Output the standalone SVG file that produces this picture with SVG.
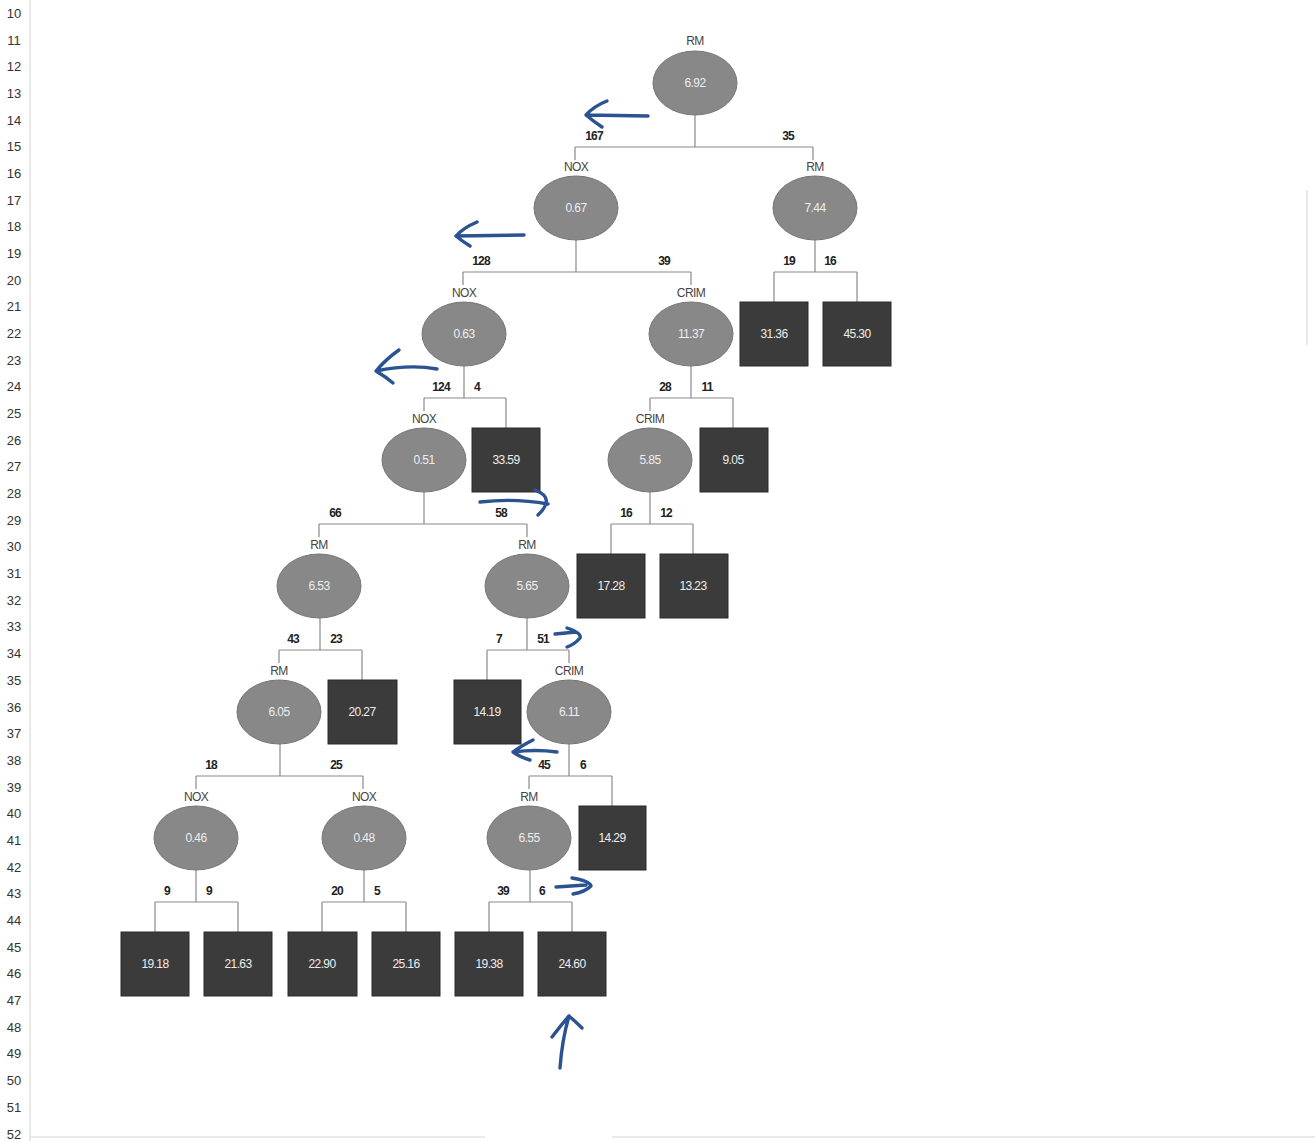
<svg xmlns="http://www.w3.org/2000/svg" width="1315" height="1141" viewBox="0 0 1315 1141">
<style>
.bg{fill:#ffffff}
.grid{stroke:#d4d4d4;stroke-width:1;fill:none}
.rown{font-family:"Liberation Sans",Arial,sans-serif;font-size:13px;fill:#333;text-anchor:middle;dominant-baseline:central}
.ell{fill:#888888;stroke:#767676;stroke-width:1}
.sq{fill:#3b3b3b;stroke:#2a2a2a;stroke-width:1}
.val{font-family:"Liberation Sans",Arial,sans-serif;font-size:12px;fill:#eeeeee;text-anchor:middle;dominant-baseline:central;letter-spacing:-0.6px}
.attr{font-family:"Liberation Sans",Arial,sans-serif;font-size:12px;fill:#444;text-anchor:middle;dominant-baseline:central;letter-spacing:-0.6px}
.cnt{font-family:"Liberation Sans",Arial,sans-serif;font-size:12px;font-weight:bold;fill:#222;text-anchor:middle;dominant-baseline:central;letter-spacing:-0.8px}
.ln{stroke:#8a8a8a;stroke-width:1.2;fill:none}
.pen{stroke:#2b5391;stroke-width:3.4;fill:none;stroke-linecap:round;stroke-linejoin:round}
</style>
<rect class="bg" x="0" y="0" width="1315" height="1141"/>
<g id="sheet">
<line class="grid" x1="30" y1="0" x2="30" y2="1141"/>
<line class="grid" x1="30" y1="1137" x2="485" y2="1137"/>
<line class="grid" x1="612" y1="1137" x2="1315" y2="1137"/>
<line class="grid" x1="1307" y1="190" x2="1307" y2="345"/>
<text class="rown" x="14" y="13">10</text>
<text class="rown" x="14" y="40">11</text>
<text class="rown" x="14" y="66">12</text>
<text class="rown" x="14" y="93">13</text>
<text class="rown" x="14" y="120">14</text>
<text class="rown" x="14" y="146">15</text>
<text class="rown" x="14" y="173">16</text>
<text class="rown" x="14" y="200">17</text>
<text class="rown" x="14" y="226">18</text>
<text class="rown" x="14" y="253">19</text>
<text class="rown" x="14" y="280">20</text>
<text class="rown" x="14" y="306">21</text>
<text class="rown" x="14" y="333">22</text>
<text class="rown" x="14" y="360">23</text>
<text class="rown" x="14" y="386">24</text>
<text class="rown" x="14" y="413">25</text>
<text class="rown" x="14" y="440">26</text>
<text class="rown" x="14" y="466">27</text>
<text class="rown" x="14" y="493">28</text>
<text class="rown" x="14" y="520">29</text>
<text class="rown" x="14" y="546">30</text>
<text class="rown" x="14" y="573">31</text>
<text class="rown" x="14" y="600">32</text>
<text class="rown" x="14" y="626">33</text>
<text class="rown" x="14" y="653">34</text>
<text class="rown" x="14" y="680">35</text>
<text class="rown" x="14" y="707">36</text>
<text class="rown" x="14" y="733">37</text>
<text class="rown" x="14" y="760">38</text>
<text class="rown" x="14" y="787">39</text>
<text class="rown" x="14" y="813">40</text>
<text class="rown" x="14" y="840">41</text>
<text class="rown" x="14" y="867">42</text>
<text class="rown" x="14" y="893">43</text>
<text class="rown" x="14" y="920">44</text>
<text class="rown" x="14" y="947">45</text>
<text class="rown" x="14" y="973">46</text>
<text class="rown" x="14" y="1000">47</text>
<text class="rown" x="14" y="1027">48</text>
<text class="rown" x="14" y="1053">49</text>
<text class="rown" x="14" y="1080">50</text>
<text class="rown" x="14" y="1107">51</text>
<text class="rown" x="14" y="1134">52</text>
</g>
<g id="connectors">
<path class="ln" d="M695,115 V147 M575,147 H813 M575,147 V160 M813,147 V160"/>
<path class="ln" d="M576,240 V272 M463,272 H691 M463,272 V285 M691,272 V285"/>
<path class="ln" d="M815,240 V272 M774,272 H857 M774,272 V302 M857,272 V302"/>
<path class="ln" d="M464,366 V398 M424,398 H506 M424,398 V411 M506,398 V428"/>
<path class="ln" d="M691,366 V398 M650,398 H733 M650,398 V411 M733,398 V428"/>
<path class="ln" d="M424,492 V524 M319,524 H527 M319,524 V537 M527,524 V537"/>
<path class="ln" d="M650,492 V524 M611,524 H693 M611,524 V554 M693,524 V554"/>
<path class="ln" d="M320,618 V650 M279,650 H362 M279,650 V663 M362,650 V680"/>
<path class="ln" d="M527,618 V650 M487,650 H569 M487,650 V680 M569,650 V663"/>
<path class="ln" d="M280,744 V776 M196,776 H363 M196,776 V789 M363,776 V789"/>
<path class="ln" d="M569,744 V776 M529,776 H612 M529,776 V789 M612,776 V806"/>
<path class="ln" d="M196,870 V902 M155,902 H238 M155,902 V932 M238,902 V932"/>
<path class="ln" d="M364,870 V902 M322,902 H406 M322,902 V932 M406,902 V932"/>
<path class="ln" d="M530,870 V902 M489,902 H572 M489,902 V932 M572,902 V932"/>
<text class="cnt" x="594" y="136">167</text><text class="cnt" x="788" y="136">35</text>
<text class="cnt" x="481" y="261">128</text><text class="cnt" x="664" y="261">39</text>
<text class="cnt" x="789" y="261">19</text><text class="cnt" x="830" y="261">16</text>
<text class="cnt" x="441" y="387">124</text><text class="cnt" x="477" y="387">4</text>
<text class="cnt" x="665" y="387">28</text><text class="cnt" x="707" y="387">11</text>
<text class="cnt" x="335" y="513">66</text><text class="cnt" x="501" y="513">58</text>
<text class="cnt" x="626" y="513">16</text><text class="cnt" x="666" y="513">12</text>
<text class="cnt" x="293" y="639">43</text><text class="cnt" x="336" y="639">23</text>
<text class="cnt" x="499" y="639">7</text><text class="cnt" x="543" y="639">51</text>
<text class="cnt" x="211" y="765">18</text><text class="cnt" x="336" y="765">25</text>
<text class="cnt" x="544" y="765">45</text><text class="cnt" x="583" y="765">6</text>
<text class="cnt" x="167" y="891">9</text><text class="cnt" x="209" y="891">9</text>
<text class="cnt" x="337" y="891">20</text><text class="cnt" x="377" y="891">5</text>
<text class="cnt" x="503" y="891">39</text><text class="cnt" x="542" y="891">6</text>
</g>
<g id="n0"><text class="attr" x="695" y="41">RM</text><ellipse class="ell" cx="695" cy="83" rx="42" ry="32"/><text class="val" x="695" y="83">6.92</text></g>
<g id="n1"><text class="attr" x="576" y="167">NOX</text><ellipse class="ell" cx="576" cy="208" rx="42" ry="32"/><text class="val" x="576" y="208">0.67</text></g>
<g id="n2"><text class="attr" x="815" y="167">RM</text><ellipse class="ell" cx="815" cy="208" rx="42" ry="32"/><text class="val" x="815" y="208">7.44</text></g>
<g id="n3"><text class="attr" x="464" y="293">NOX</text><ellipse class="ell" cx="464" cy="334" rx="42" ry="32"/><text class="val" x="464" y="334">0.63</text></g>
<g id="n4"><text class="attr" x="691" y="293">CRIM</text><ellipse class="ell" cx="691" cy="334" rx="42" ry="32"/><text class="val" x="691" y="334">11.37</text></g>
<g id="n5"><text class="attr" x="424" y="419">NOX</text><ellipse class="ell" cx="424" cy="460" rx="42" ry="32"/><text class="val" x="424" y="460">0.51</text></g>
<g id="n6"><text class="attr" x="650" y="419">CRIM</text><ellipse class="ell" cx="650" cy="460" rx="42" ry="32"/><text class="val" x="650" y="460">5.85</text></g>
<g id="n7"><text class="attr" x="319" y="545">RM</text><ellipse class="ell" cx="319" cy="586" rx="42" ry="32"/><text class="val" x="319" y="586">6.53</text></g>
<g id="n8"><text class="attr" x="527" y="545">RM</text><ellipse class="ell" cx="527" cy="586" rx="42" ry="32"/><text class="val" x="527" y="586">5.65</text></g>
<g id="n9"><text class="attr" x="279" y="671">RM</text><ellipse class="ell" cx="279" cy="712" rx="42" ry="32"/><text class="val" x="279" y="712">6.05</text></g>
<g id="n10"><text class="attr" x="569" y="671">CRIM</text><ellipse class="ell" cx="569" cy="712" rx="42" ry="32"/><text class="val" x="569" y="712">6.11</text></g>
<g id="n11"><text class="attr" x="196" y="797">NOX</text><ellipse class="ell" cx="196" cy="838" rx="42" ry="32"/><text class="val" x="196" y="838">0.46</text></g>
<g id="n12"><text class="attr" x="364" y="797">NOX</text><ellipse class="ell" cx="364" cy="838" rx="42" ry="32"/><text class="val" x="364" y="838">0.48</text></g>
<g id="n13"><text class="attr" x="529" y="797">RM</text><ellipse class="ell" cx="529" cy="838" rx="42" ry="32"/><text class="val" x="529" y="838">6.55</text></g>
<g id="l1"><rect class="sq" x="740" y="302" width="68" height="64"/><text class="val" x="774" y="334">31.36</text></g>
<g id="l2"><rect class="sq" x="823" y="302" width="68" height="64"/><text class="val" x="857" y="334">45.30</text></g>
<g id="l3"><rect class="sq" x="472" y="428" width="68" height="64"/><text class="val" x="506" y="460">33.59</text></g>
<g id="l4"><rect class="sq" x="700" y="428" width="68" height="64"/><text class="val" x="733" y="460">9.05</text></g>
<g id="l5"><rect class="sq" x="577" y="554" width="68" height="64"/><text class="val" x="611" y="586">17.28</text></g>
<g id="l6"><rect class="sq" x="660" y="554" width="68" height="64"/><text class="val" x="693" y="586">13.23</text></g>
<g id="l7"><rect class="sq" x="328" y="680" width="69" height="64"/><text class="val" x="362" y="712">20.27</text></g>
<g id="l8"><rect class="sq" x="454" y="680" width="67" height="64"/><text class="val" x="487" y="712">14.19</text></g>
<g id="l9"><rect class="sq" x="579" y="806" width="67" height="64"/><text class="val" x="612" y="838">14.29</text></g>
<g id="l10"><rect class="sq" x="121" y="932" width="68" height="64"/><text class="val" x="155" y="964">19.18</text></g>
<g id="l11"><rect class="sq" x="204" y="932" width="68" height="64"/><text class="val" x="238" y="964">21.63</text></g>
<g id="l12"><rect class="sq" x="288" y="932" width="69" height="64"/><text class="val" x="322" y="964">22.90</text></g>
<g id="l13"><rect class="sq" x="372" y="932" width="68" height="64"/><text class="val" x="406" y="964">25.16</text></g>
<g id="l14"><rect class="sq" x="455" y="932" width="68" height="64"/><text class="val" x="489" y="964">19.38</text></g>
<g id="l15"><rect class="sq" x="538" y="932" width="68" height="64"/><text class="val" x="572" y="964">24.60</text></g>
<g id="annotations">
<path class="pen" d="M648,116 L586,115 M607,101 Q594,106 586,115 Q593,121 602,127"/>
<path class="pen" d="M524,235 L456,236 M477,222 Q463,228 456,236 Q462,241 470,246"/>
<path class="pen" d="M437,369 Q410,364 376,371 M399,350 Q386,359 376,371 Q386,377 393,383"/>
<path class="pen" d="M480,502 Q515,498 548,504 M535,490 Q556,498 538,515"/>
<path class="pen" d="M555,634 L576,632 M567,628 Q582,633 580,638 Q575,644 567,647"/>
<path class="pen" d="M557,752 Q536,749 513,752 M533,740 Q521,746 513,752 Q520,757 530,760"/>
<path class="pen" d="M556,887 L586,885 M572,878 Q590,881 591,886 Q585,892 573,894"/>
<path class="pen" d="M560,1068 Q562,1040 569,1016 M552,1037 Q561,1025 569,1016 Q576,1022 582,1028"/>
</g>
</svg>
